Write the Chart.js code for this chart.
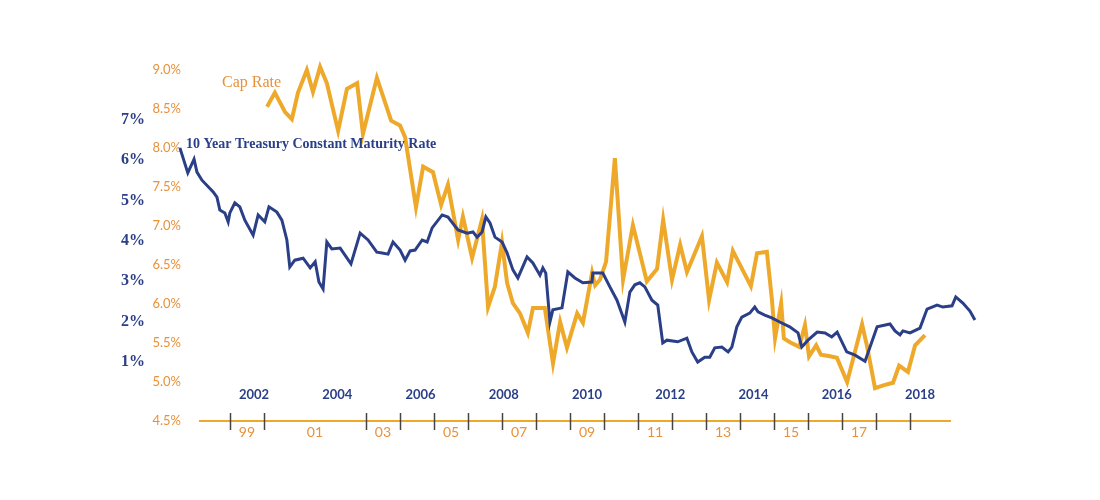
<!DOCTYPE html>
<html>
<head>
<meta charset="utf-8">
<script src="https://cdn.jsdelivr.net/npm/chart.js@4.4.0/dist/chart.umd.min.js"></script>
<style>
  html, body { margin: 0; padding: 0; background: #fff; }
  canvas { display: block; }
</style>
</head>
<body>
<canvas id="myChart" width="1100" height="500"></canvas>
<script>
// 10 Year Treasury (decimal year, %)
const tsyYears = [2000.22, 2000.41, 2000.56, 2000.63, 2000.75, 2001.02, 2001.11, 2001.18, 2001.30, 2001.38,
  2001.42, 2001.54, 2001.66, 2001.78, 2001.98, 2002.10, 2002.26, 2002.36, 2002.55, 2002.67,
  2002.79, 2002.86, 2002.98, 2003.18, 2003.35, 2003.47, 2003.56, 2003.66, 2003.75, 2003.87,
  2004.07, 2004.33, 2004.55, 2004.74, 2004.95, 2005.08, 2005.22, 2005.34, 2005.51, 2005.63,
  2005.75, 2005.87, 2006.04, 2006.16, 2006.28, 2006.52, 2006.66, 2006.90, 2007.12, 2007.26,
  2007.36, 2007.48, 2007.57, 2007.67, 2007.79, 2007.96, 2008.08, 2008.22, 2008.34, 2008.56,
  2008.70, 2008.87, 2008.94, 2009.01, 2009.11, 2009.18, 2009.40, 2009.54, 2009.71, 2009.90,
  2010.12, 2010.14, 2010.38, 2010.55, 2010.72, 2010.91, 2011.03, 2011.15, 2011.27, 2011.39,
  2011.56, 2011.70, 2011.82, 2011.92, 2012.18, 2012.40, 2012.52, 2012.66, 2012.83, 2012.95,
  2013.07, 2013.24, 2013.39, 2013.48, 2013.60, 2013.72, 2013.91, 2014.03, 2014.11, 2014.27,
  2014.44, 2014.63, 2014.87, 2015.07, 2015.16, 2015.31, 2015.53, 2015.72, 2015.88, 2016.01,
  2016.24, 2016.44, 2016.68, 2016.97, 2017.28, 2017.40, 2017.52, 2017.59, 2017.76, 2018.00,
  2018.17, 2018.41, 2018.55, 2018.77, 2018.86, 2019.03, 2019.20, 2019.32];
const tsyRates = [6.30, 5.68, 6.02, 5.70, 5.50, 5.21, 5.08, 4.76, 4.69, 4.47,
  4.69, 4.94, 4.84, 4.51, 4.14, 4.64, 4.47, 4.84, 4.71, 4.51,
  4.02, 3.35, 3.52, 3.57, 3.33, 3.48, 2.98, 2.81, 3.97, 3.80,
  3.82, 3.43, 4.19, 4.02, 3.72, 3.70, 3.67, 3.97, 3.77, 3.52,
  3.75, 3.77, 4.02, 3.97, 4.32, 4.64, 4.59, 4.27, 4.19, 4.22,
  4.09, 4.22, 4.59, 4.44, 4.09, 3.97, 3.70, 3.28, 3.08, 3.60,
  3.45, 3.15, 3.33, 3.20, 1.99, 2.29, 2.34, 3.23, 3.08, 2.96,
  2.98, 3.20, 3.20, 2.86, 2.53, 1.99, 2.73, 2.91, 2.96, 2.86,
  2.53, 2.41, 1.47, 1.54, 1.50, 1.59, 1.25, 1.00, 1.12, 1.12,
  1.35, 1.37, 1.25, 1.37, 1.87, 2.11, 2.21, 2.36, 2.24, 2.16,
  2.09, 1.99, 1.87, 1.72, 1.37, 1.54, 1.74, 1.72, 1.62, 1.74,
  1.25, 1.17, 1.02, 1.87, 1.94, 1.77, 1.67, 1.77, 1.72, 1.84,
  2.31, 2.41, 2.36, 2.39, 2.61, 2.46, 2.26, 2.04];

// Cap Rate (decimal year, %)
const capYears = [2000.09, 2000.32, 2000.62, 2000.82, 2001.00, 2001.26, 2001.44, 2001.65, 2001.85, 2002.18,
  2002.44, 2002.74, 2002.91, 2003.32, 2003.74, 2004.00, 2004.15, 2004.47, 2004.68, 2004.97,
  2005.21, 2005.41, 2005.71, 2005.85, 2006.12, 2006.41, 2006.59, 2006.79, 2007.00, 2007.15,
  2007.32, 2007.53, 2007.76, 2007.91, 2008.26, 2008.50, 2008.71, 2008.91, 2009.21, 2009.38,
  2009.65, 2009.74, 2009.88, 2010.06, 2010.32, 2010.56, 2010.85, 2011.26, 2011.56, 2011.74,
  2012.00, 2012.24, 2012.44, 2012.88, 2013.09, 2013.32, 2013.62, 2013.79, 2014.32, 2014.50,
  2014.79, 2014.94, 2015.03, 2015.21, 2015.29, 2015.47, 2015.74, 2015.91, 2016.03, 2016.24,
  2016.38, 2016.65, 2016.85, 2017.15, 2017.59, 2017.74, 2017.97, 2018.24, 2018.50, 2018.68,
  2018.94, 2019.15, 2019.44];
const capRates = [8.53, 8.71, 8.46, 8.37, 8.71, 9.00, 8.72, 9.04, 8.83, 8.22,
  8.76, 8.83, 8.18, 8.90, 8.35, 8.29, 8.14, 7.24, 7.76, 7.69,
  7.27, 7.53, 6.82, 7.12, 6.59, 7.08, 5.96, 6.22, 6.79, 6.27,
  6.01, 5.88, 5.63, 5.95, 5.95, 5.24, 5.77, 5.44, 5.88, 5.76,
  6.40, 6.24, 6.31, 6.54, 7.87, 6.31, 7.01, 6.29, 6.45, 7.08,
  6.31, 6.76, 6.41, 6.87, 6.05, 6.53, 6.28, 6.68, 6.23, 6.65,
  6.67, 6.05, 5.56, 6.01, 5.56, 5.51, 5.45, 5.73, 5.33, 5.47,
  5.35, 5.33, 5.31, 5.00, 5.74, 5.45, 4.92, 4.96, 4.99, 5.21,
  5.13, 5.47, 5.60];

// ticks
const tsyTickYears = [2002, 2004, 2006, 2008, 2010, 2012, 2014, 2016, 2018];
const tsyTickRates = [1, 2, 3, 4, 5, 6, 7];
const capLabelYears = [1999, 2001, 2003, 2005, 2007, 2009, 2011, 2013, 2015, 2017];
const capTickLabels = ['99', '01', '03', '05', '07', '09', '11', '13', '15', '17'];
const capTickYears = [1999, 2000, 2003, 2004, 2005, 2006, 2007, 2008, 2009, 2010, 2011,
  2012, 2013, 2014, 2015, 2016, 2017, 2018, 2019];

const BLUE = '#2a3f88';
const ORANGE_LINE = '#eea92a';
const ORANGE_TEXT = '#e8913a';

Chart.defaults.font.family = 'Lato';

// tick marks across the bottom axis + the two series captions
const extras = {
  id: 'extras',
  afterDraw(chart) {
    const ctx = chart.ctx;
    const xs = chart.scales.xCap;
    const yb = chart.chartArea.bottom;
    ctx.save();
    ctx.strokeStyle = '#444';
    ctx.lineWidth = 1.5;
    capTickYears.forEach(function (yr) {
      const px = Math.round(xs.getPixelForValue(yr)) + 0.5;
      ctx.beginPath();
      ctx.moveTo(px, yb - 8);
      ctx.lineTo(px, yb + 9);
      ctx.stroke();
    });
    ctx.textBaseline = 'middle';
    ctx.textAlign = 'left';
    ctx.fillStyle = ORANGE_TEXT;
    ctx.font = '16px "Liberation Serif"';
    ctx.fillText('Cap Rate', 222, 83);
    ctx.fillStyle = BLUE;
    ctx.font = 'bold 14px "Liberation Serif"';
    ctx.fillText('10 Year Treasury Constant Maturity Rate', 186, 144);
    ctx.restore();
  }
};

const ctx = document.getElementById('myChart');

new Chart(ctx, {
  type: 'line',
  data: {
    datasets: [{
      label: '10 Year Treasury Constant Maturity Rate',
      data: tsyYears.map((x, i) => ({ x: x, y: tsyRates[i] })),
      xAxisID: 'xTsy',
      yAxisID: 'yTsy',
      borderColor: BLUE,
      borderWidth: 3,
      pointRadius: 0,
      tension: 0,
      clip: false
    }, {
      label: 'Cap Rate',
      data: capYears.map((x, i) => ({ x: x, y: capRates[i] })),
      xAxisID: 'xCap',
      yAxisID: 'yCap',
      borderColor: ORANGE_LINE,
      borderWidth: 4,
      pointRadius: 0,
      tension: 0,
      clip: false
    }]
  },
  options: {
    responsive: false,
    animation: false,
    devicePixelRatio: 1,
    layout: { padding: { left: 100, right: 150, top: 70, bottom: 39 } },
    plugins: {
      legend: { display: false },
      tooltip: { enabled: false }
    },
    scales: {
      xCap: {
        type: 'linear',
        axis: 'x',
        position: 'bottom',
        min: 1998.118,
        max: 2020.176,
        grid: { display: false, drawTicks: false },
        border: { display: true, color: ORANGE_LINE, width: 2 },
        afterBuildTicks: function (s) {
          s.ticks = capLabelYears.map(v => ({ value: v + 0.5 }));
        },
        afterFit: function (s) { s.height = 40; },
        ticks: {
          autoSkip: false,
          maxRotation: 0,
          padding: 3,
          color: ORANGE_TEXT,
          font: { size: 14 },
          callback: function (v) {
            const i = capLabelYears.indexOf(Math.round(v - 0.5));
            return i >= 0 ? capTickLabels[i] : '';
          }
        }
      },
      xTsy: {
        type: 'linear',
        axis: 'x',
        bounds: 'data',
        position: { yCap: 4.987 },
        grid: { display: false, drawTicks: false },
        border: { display: false },
        afterDataLimits: function (s) {
          s.min = 2000.703;
          s.max = 2018.721;
        },
        afterBuildTicks: function (s) {
          s.ticks = tsyTickYears.map(v => ({ value: v }));
        },
        ticks: {
          autoSkip: false,
          maxRotation: 0,
          padding: 4,
          color: BLUE,
          font: { size: 13, weight: 'bold' },
          callback: v => String(v)
        }
      },
      yTsy: {
        type: 'linear',
        position: 'left',
        weight: 1,
        bounds: 'data',
        grid: { display: false, drawTicks: false },
        border: { display: false },
        afterDataLimits: function (s) {
          s.min = -0.4604;
          s.max = 8.2277;
        },
        afterBuildTicks: function (s) {
          s.ticks = tsyTickRates.map(v => ({ value: v }));
        },
        afterFit: function (s) { s.width = 45; },
        ticks: {
          padding: 0,
          color: BLUE,
          font: { family: '"Liberation Serif"', size: 16, weight: 'bold' },
          callback: v => v + '%'
        }
      },
      yCap: {
        type: 'linear',
        position: 'left',
        weight: 0,
        min: 4.5,
        max: 9.0,
        grid: { display: false, drawTicks: false },
        border: { display: false },
        afterFit: function (s) { s.width = 55; },
        ticks: {
          stepSize: 0.5,
          padding: 19,
          color: ORANGE_TEXT,
          font: { size: 13 },
          callback: v => v.toFixed(1) + '%'
        }
      }
    }
  },
  plugins: [extras]
});
</script>
</body>
</html>
